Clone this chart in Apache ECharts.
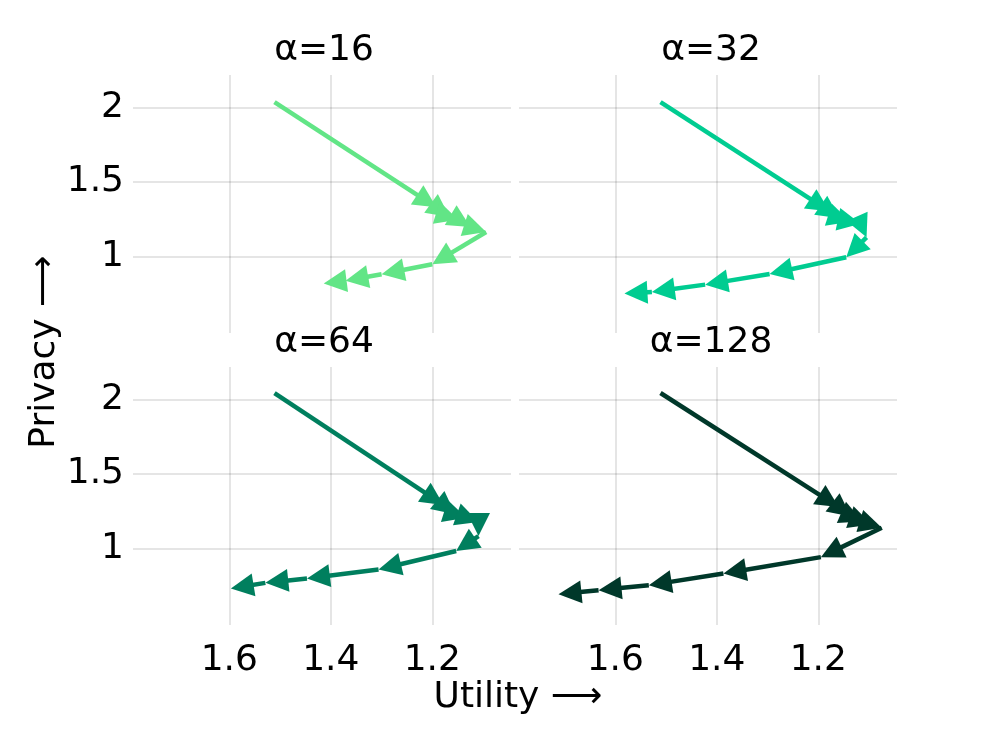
<!DOCTYPE html>
<html>
<head>
<meta charset="utf-8">
<script src="https://cdn.jsdelivr.net/npm/echarts@6/dist/echarts.min.js"></script>
<style>html,body{margin:0;padding:0;background:#fff}#c{width:996px;height:747px}</style>
</head>
<body>
<div id="c"></div>
<script>
// ---- data ----
const panelTitles = ['α=16', 'α=32', 'α=64', 'α=128'];

const utility16 = [1.511, 1.192, 1.166, 1.149, 1.125, 1.094, 1.200, 1.300, 1.371, 1.414];
const privacy16 = [2.038, 1.330, 1.265, 1.247, 1.198, 1.164, 0.947, 0.880, 0.836, 0.817];

const utility32 = [1.511, 1.178, 1.158, 1.137, 1.117, 1.105, 1.145, 1.296, 1.423, 1.528, 1.582];
const privacy32 = [2.038, 1.303, 1.256, 1.233, 1.219, 1.128, 0.994, 0.882, 0.810, 0.761, 0.750];

const utility64 = [1.511, 1.178, 1.155, 1.133, 1.109, 1.109, 1.153, 1.306, 1.447, 1.529, 1.597];
const privacy64 = [2.045, 1.292, 1.229, 1.206, 1.177, 1.083, 0.982, 0.858, 0.798, 0.768, 0.730];

const utility128 = [1.511, 1.160, 1.136, 1.113, 1.095, 1.075, 1.195, 1.387, 1.534, 1.633, 1.712];
const privacy128 = [2.045, 1.278, 1.215, 1.181, 1.160, 1.139, 0.941, 0.831, 0.752, 0.719, 0.692];

const utilityTicks = [1.2, 1.4, 1.6];
const privacyTicks = [1, 1.5, 2];

const xLabel = 'Utility ⟶';
const yLabel = 'Privacy ⟶';

// ---- styling ----
const colors = ['#62e586', '#00cc91', '#007f5e', '#00382a'];
const FONT = 'DejaVu Sans';
const gridColor = 'rgba(0,0,0,0.1)';

const panels = [
  { xs: utility16, ys: privacy16 },
  { xs: utility32, ys: privacy32 },
  { xs: utility64, ys: privacy64 },
  { xs: utility128, ys: privacy128 }
];

const gridPos = [
  { left: 139, top: 75, width: 372, height: 252 },
  { left: 525, top: 75, width: 372, height: 252 },
  { left: 139, top: 367, width: 372, height: 252 },
  { left: 525, top: 367, width: 372, height: 252 }
];

function makeRenderer(xs, ys, color) {
  const HL = 23, HW = 11.5;
  return function (params, api) {
    const i = params.dataIndex;
    if (i === 0) return null;
    const a = api.coord([xs[i - 1], ys[i - 1]]);
    const b = api.coord([api.value(0), api.value(1)]);
    const dx = b[0] - a[0], dy = b[1] - a[1];
    const L = Math.hypot(dx, dy) || 1;
    const ux = dx / L, uy = dy / L;
    const bx = b[0] - ux * HL, by = b[1] - uy * HL;
    const back = Math.min(HL * 0.6, L);
    const ex = b[0] - ux * back, ey = b[1] - uy * back;
    return {
      type: 'group',
      children: [
        { type: 'line', shape: { x1: a[0], y1: a[1], x2: ex, y2: ey },
          style: { stroke: color, lineWidth: 4.5, lineCap: 'butt' } },
        { type: 'polygon',
          shape: { points: [[b[0], b[1]], [bx - uy * HW, by + ux * HW], [bx + uy * HW, by - ux * HW]] },
          style: { fill: color } }
      ]
    };
  };
}

const grid = gridPos.map(g => Object.assign({ containLabel: false }, g));

const xAxis = gridPos.map((g, k) => ({
  gridIndex: k,
  type: 'value',
  inverse: true,
  min: 1.045,
  max: 1.778,
  axisLine: { show: false },
  axisTick: { show: true, customValues: utilityTicks, length: 6, lineStyle: { color: gridColor, width: 2 } },
  axisLabel: { show: k >= 2, customValues: utilityTicks, fontSize: 36, fontFamily: FONT, color: '#000', margin: 24 },
  splitLine: { show: true, lineStyle: { color: gridColor, width: 2 } }
}));

const yAxis = gridPos.map((g, k) => ({
  gridIndex: k,
  type: 'value',
  min: 0.525,
  max: 2.22,
  axisLine: { show: false },
  axisTick: { show: true, customValues: privacyTicks, length: 6, lineStyle: { color: gridColor, width: 2 } },
  axisLabel: { show: k % 2 === 0, customValues: privacyTicks, fontSize: 36, fontFamily: FONT, color: '#000', margin: 15 },
  splitLine: { show: true, lineStyle: { color: gridColor, width: 2 } }
}));

const series = panels.map((p, k) => ({
  type: 'custom',
  xAxisIndex: k,
  yAxisIndex: k,
  clip: false,
  renderItem: makeRenderer(p.xs, p.ys, colors[k]),
  encode: { x: 0, y: 1 },
  data: p.xs.map((x, j) => [x, p.ys[j]])
}));

const titleCenters = [[324, 51], [711, 51], [324, 343], [711, 343]];
const graphic = panelTitles.map((t, k) => ({
  type: 'text',
  x: titleCenters[k][0],
  y: titleCenters[k][1],
  style: { text: t, fontSize: 36, fontFamily: FONT, fill: '#000', align: 'center', verticalAlign: 'middle' }
}));
graphic.push({
  type: 'text', x: 518, y: 698,
  style: { text: xLabel, fontSize: 36, fontFamily: FONT, fill: '#000', align: 'center', verticalAlign: 'middle' }
});
graphic.push({
  type: 'text', x: 45, y: 352, rotation: Math.PI / 2,
  style: { text: yLabel, fontSize: 36, fontFamily: FONT, fill: '#000', align: 'center', verticalAlign: 'middle' }
});

const chart = echarts.init(document.getElementById('c'), null, { renderer: 'canvas' });
chart.setOption({
  animation: false,
  backgroundColor: '#fff',
  grid, xAxis, yAxis, series, graphic
});
</script>
</body>
</html>
